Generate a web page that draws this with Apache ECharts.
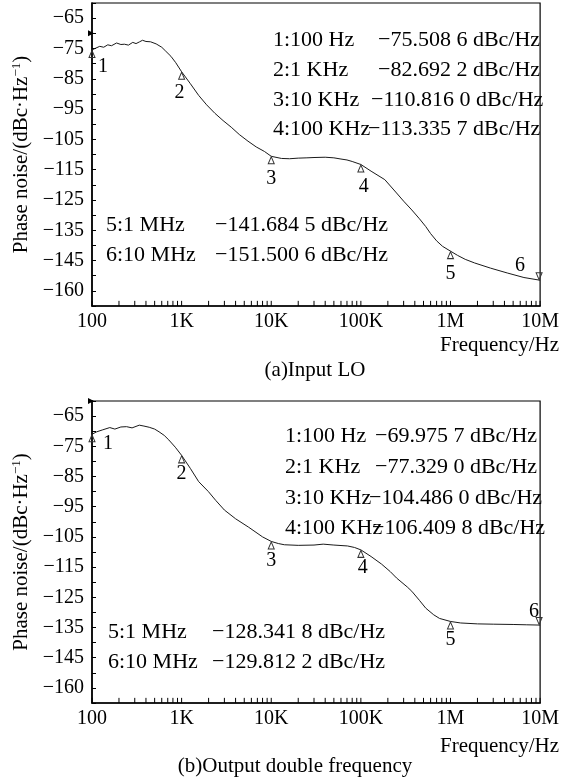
<!DOCTYPE html>
<html><head><meta charset="utf-8">
<script src="https://cdn.jsdelivr.net/npm/echarts@6/dist/echarts.min.js"></script>
<style>html,body{margin:0;padding:0;background:#fff}#c{width:562px;height:781px}#err{position:absolute;left:0;top:0;font:10px sans-serif;color:red;width:560px}</style>
</head><body><div id="c"></div><div id="err"></div>
<script>
window.onerror = function (m) { document.getElementById('err').textContent += ' ' + m; };
// ---------- data ----------
const xTickValues = [100, 1e3, 1e4, 1e5, 1e6, 1e7];
const xTickLabels = ['100', '1K', '10K', '100K', '1M', '10M'];
const yTickValues = [-65, -75, -85, -95, -105, -115, -125, -135, -145, -155];
const yTickLabels = ['\u221265', '\u221275', '\u221285', '\u221295', '\u2212105', '\u2212115', '\u2212125', '\u2212135', '\u2212145', '\u2212160'];
const minorDecades = [100, 1e3, 1e4, 1e5, 1e6];
const minorMultipliers = [2, 3, 4, 5, 6, 7, 8, 9];

const markerFreqs = [100, 1e3, 1e4, 1e5, 1e6, 1e7];
const markerFreqLabels = ['100 Hz', '1 KHz', '10 KHz', '100 KHz', '1 MHz', '10 MHz'];
const markerValues1 = [-75.5086, -82.6922, -110.8160, -113.3357, -141.6845, -151.5006];
const markerValues2 = [-69.9757, -77.3290, -104.4860, -106.4098, -128.3418, -129.8122];
const refLevels = [-70, -60];

const freq1 = [100,110,122,135,150,165,188,210,230,255,285,310,340,366,400,450,520,600,665,760,
  860,1000,1250,1550,1900,2350,2900,3580,4400,5500,6800,8400,10000,13000,16000,20000,25000,30000,40000,50000,
  60000,70000,80000,100000,130000,185000,250000,300000,370000,450000,530000,600000,700000,815000,1e6,1.2e6,1.46e6,1.86e6,2.8e6,4.3e6,
  6.6e6,1e7];
const noise1 = [-75.5,-74.9,-74.3,-74.6,-73.8,-74.1,-73.2,-73.7,-73.6,-73.9,-73.0,-73.4,-72.8,-72.3,-72.7,-72.8,-73.5,-74.6,-75.9,-77.6,
  -79.7,-82.7,-86.6,-90.5,-93.6,-96.4,-98.8,-101.0,-103.4,-105.6,-107.5,-109.0,-110.6,-111.3,-111.4,-111.2,-111.1,-111.0,-110.9,-111.1,
  -111.5,-111.8,-112.3,-113.3,-115.5,-118.3,-122.7,-125.4,-128.3,-131.2,-133.8,-136.1,-138.5,-140.3,-141.9,-143.3,-144.6,-145.8,-147.5,-149.1,
  -150.6,-151.5];

const freq2 = [100,113,130,158,180,210,243,280,337,380,435,500,560,640,720,850,1000,1250,1550,1990,
  2400,3000,4000,5600,8000,10000,12000,14000,20000,30000,38000,50000,71000,85000,100000,130000,170000,213000,250000,330000,
  370000,450000,530000,650000,755000,1e6,1.3e6,2e6,3e6,5e6,7e6,1e7];
const noise2 = [-71.0,-70.2,-69.6,-68.8,-69.3,-68.6,-68.5,-68.9,-68.0,-68.3,-68.7,-69.3,-70.2,-71.4,-72.9,-75.3,-78.0,-82.3,-86.7,-90.0,
  -92.9,-96.1,-99.0,-101.8,-105.0,-106.5,-107.2,-107.6,-107.8,-107.7,-107.4,-107.7,-108.0,-108.5,-109.3,-111.5,-114.0,-116.5,-118.6,-121.6,
  -123.0,-126.0,-128.6,-130.8,-132.0,-133.0,-133.5,-133.8,-133.9,-134.0,-134.1,-134.2];

const panelTitles = ['(a)Input LO', '(b)Output double frequency'];
const xAxisName = 'Frequency/Hz';
const yAxisName = 'Phase noise/(dBc\u00b7Hz{sup|\u22121})';

// ---------- styling / layout ----------
const FONT = '"Liberation Serif", "Times New Roman", serif';
const ANN_FONT = '22px ' + FONT;
const GRIDS = [{left: 92, top: 3, width: 455, height: 303}, {left: 92, top: 401, width: 455, height: 302}];
const TICK_DB = 1.7; // tick length expressed in axis units (about 5 px)
const LABEL_OFFSETS = [
  [[11, 13], [-2, 17], [0, 18], [3, 18], [0, 19], [-19, -10]],
  [[16, 6], [0, 14], [0, 15], [2, 14], [0, 14], [-5, -9]]
];
const ANNOT = [
  {top: {xl: 273, xv: [378, 378, 371, 368], y: [40, 70, 100, 129]}, bot: {xl: 106, xv: 215, y: [225, 255]},
   xname: {x: 559, y: 345}, title: {x: 315, y: 370}},
  {top: {xl: 285, xv: [375, 375, 369, 372], y: [436, 467, 498, 528]}, bot: {xl: 108, xv: 212, y: [632, 662]},
   xname: {x: 559, y: 746}, title: {x: 295, y: 766}}
];

function fmtVal(v) {
  const s = Math.abs(v).toFixed(4);
  return '\u2212' + s.slice(0, -1) + ' ' + s.slice(-1) + ' dBc/Hz';
}
function curveAt(freqs, vals, f) { return vals[freqs.indexOf(f)]; }

const chart = echarts.init(document.getElementById('c'), null, {renderer: 'canvas'});
const curves = [[freq1, noise1], [freq2, noise2]];
const mValues = [markerValues1, markerValues2];

const xAxes = [], yAxes = [], series = [], graphics = [];
const tickFreqs = xTickValues.slice();
minorDecades.forEach(d => minorMultipliers.forEach(m => tickFreqs.push(d * m)));
tickFreqs.sort((a, b) => a - b);

for (let k = 0; k < 2; k++) {
  xAxes.push({
    type: 'log', logBase: 10, min: 100, max: 1e7, gridIndex: k,
    axisLine: {show: true, onZero: false, lineStyle: {color: '#000', width: 1.6}},
    axisTick: {show: false},
    splitLine: {show: false}, minorTick: {show: false},
    axisLabel: {
      show: true, fontFamily: FONT, fontSize: 20, color: '#000', margin: 6,
      formatter: v => { const i = xTickValues.findIndex(t => Math.abs(t - v) / t < 1e-6); return i >= 0 ? xTickLabels[i] : ''; }
    }
  });
  yAxes.push({
    type: 'value', min: -160, max: -60, interval: 5, gridIndex: k,
    axisLine: {show: true, lineStyle: {color: '#000', width: 1.6}},
    axisTick: {show: true, inside: true, length: 4, lineStyle: {color: '#000', width: 1}},
    splitLine: {show: false},
    axisLabel: {
      show: true, fontFamily: FONT, fontSize: 20, color: '#000', margin: 8,
      formatter: v => { const i = yTickValues.indexOf(v); return i >= 0 ? yTickLabels[i] : ''; }
    },
    name: yAxisName, nameLocation: 'middle', nameGap: 58,
    nameTextStyle: {fontFamily: FONT, fontSize: 21, color: '#000',
      rich: {sup: {fontFamily: FONT, fontSize: 13, color: '#000', verticalAlign: 'bottom', padding: [0, 0, 9, 0]}}}
  });
  const [fr, nv] = curves[k];
  series.push({
    type: 'line', xAxisIndex: k, yAxisIndex: k, showSymbol: false, animation: false,
    data: fr.map((f, i) => [f, nv[i]]),
    lineStyle: {color: '#1a1a1a', width: 1}
  });
  // x-axis tick marks as short vertical segments, placed through the axes
  const tickSegs = [];
  tickFreqs.forEach(f => { tickSegs.push([f, -160], [f, -160 + TICK_DB], null); });
  series.push({
    type: 'line', xAxisIndex: k, yAxisIndex: k, showSymbol: false, animation: false, silent: true,
    connectNulls: false, clip: false, z: 6,
    data: tickSegs,
    lineStyle: {color: '#000', width: 1}
  });
  series.push({
    type: 'scatter', xAxisIndex: k, yAxisIndex: k, animation: false, silent: true, clip: false, z: 5,
    data: markerFreqs.map((f, i) => ({
      value: [f, curveAt(fr, nv, f)],
      symbolRotate: i === 5 ? 180 : 0,
      symbolOffset: i === 5 ? [-1, -4] : [0, 4],
      label: {show: true, position: 'inside', offset: LABEL_OFFSETS[k][i], formatter: String(i + 1),
        fontFamily: FONT, fontSize: 20, color: '#000', textBorderWidth: 0}
    })),
    symbol: 'triangle', symbolSize: [6, 7],
    itemStyle: {color: 'rgba(255,255,255,0)', borderColor: '#333', borderWidth: 1, opacity: 1}
  });
  series.push({
    type: 'scatter', xAxisIndex: k, yAxisIndex: k, animation: false, silent: true, clip: false,
    data: [[100, refLevels[k]]], symbol: 'triangle', symbolRotate: -90, symbolSize: [6, 6], symbolOffset: [-1, 0],
    itemStyle: {color: '#000', opacity: 1}
  });

  const a = ANNOT[k];
  for (let i = 0; i < 4; i++) {
    graphics.push({type: 'text', x: a.top.xl, y: a.top.y[i], style: {text: (i + 1) + ':' + markerFreqLabels[i], font: ANN_FONT, fill: '#000', verticalAlign: 'middle'}});
    graphics.push({type: 'text', x: a.top.xv[i], y: a.top.y[i], style: {text: fmtVal(mValues[k][i]), font: ANN_FONT, fill: '#000', verticalAlign: 'middle'}});
  }
  for (let i = 4; i < 6; i++) {
    graphics.push({type: 'text', x: a.bot.xl, y: a.bot.y[i - 4], style: {text: (i + 1) + ':' + markerFreqLabels[i], font: ANN_FONT, fill: '#000', verticalAlign: 'middle'}});
    graphics.push({type: 'text', x: a.bot.xv, y: a.bot.y[i - 4], style: {text: fmtVal(mValues[k][i]), font: ANN_FONT, fill: '#000', verticalAlign: 'middle'}});
  }
  graphics.push({type: 'text', x: a.xname.x, y: a.xname.y, style: {text: xAxisName, font: '21px ' + FONT, fill: '#000', align: 'right', verticalAlign: 'middle'}});
  graphics.push({type: 'text', x: a.title.x, y: a.title.y, style: {text: panelTitles[k], font: '21px ' + FONT, fill: '#000', align: 'center', verticalAlign: 'middle'}});
}

try {
  chart.setOption({
    backgroundColor: '#fff',
    animation: false,
    grid: GRIDS.map(g => Object.assign({show: true, borderColor: '#000', borderWidth: 1.2}, g)),
    xAxis: xAxes, yAxis: yAxes, series: series, graphic: graphics
  });
} catch (e) {
  document.getElementById('err').textContent += ' setOption: ' + e.message;
}
</script></body></html>
